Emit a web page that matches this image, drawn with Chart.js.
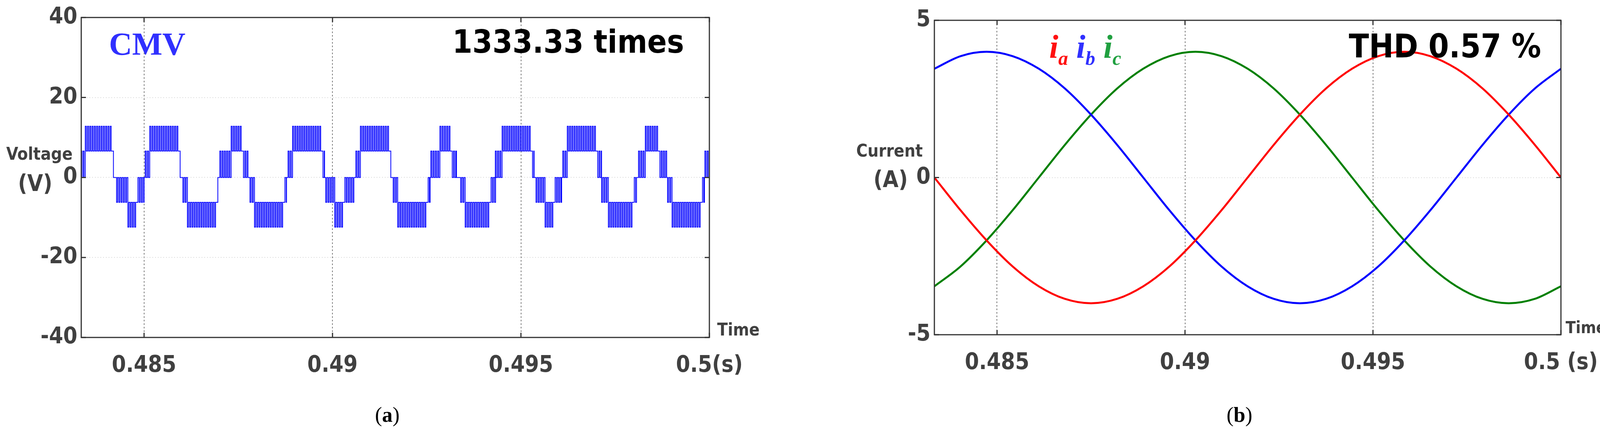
<!DOCTYPE html>
<html><head><meta charset="utf-8">
<script src="https://cdn.jsdelivr.net/npm/chart.js@4.4.0/dist/chart.umd.min.js"></script>
<style>
html,body{margin:0;padding:0}
body{width:4160px;height:1124px;background:#fff;position:relative;overflow:hidden}
canvas{position:absolute;top:0}
.t{position:absolute;white-space:nowrap;line-height:1;z-index:5}
.n{font-family:"DejaVu Sans Condensed","DejaVu Sans",sans-serif;font-weight:bold;color:#404040}
.k{font-family:"DejaVu Sans Condensed","DejaVu Sans",sans-serif;font-weight:bold;color:#000}
.s{font-family:"Liberation Serif","DejaVu Serif",serif}
</style></head><body>
<div style="position:absolute;left:0;top:0;width:2080px;height:1124px"><canvas id="c1"></canvas></div>
<div style="position:absolute;left:2080px;top:0;width:2080px;height:1124px"><canvas id="c2"></canvas></div>

<div class="t s" style="left:279px;top:72px;font-size:82px;font-weight:bold;color:#3030ff">CMV</div>
<div class="t k" style="left:1158px;top:66px;font-size:82px">1333.33 times</div>
<div class="t n" style="left:16px;top:372px;font-size:44px">Voltage</div>
<div class="t n" style="left:46px;top:440px;font-size:58px">(V)</div>
<div class="t n" style="left:1836px;top:822px;font-size:44px">Time</div>
<div class="t s" style="left:960px;top:1035px;font-size:54px">(<b>a</b>)</div>

<div class="t s" style="left:2686px;top:78px;font-size:84px;font-weight:bold;font-style:italic"><span style="color:#ff1010">i<sub style="font-size:50px">a</sub></span> <span style="color:#3030ff">i<sub style="font-size:50px">b</sub></span> <span style="color:#20a040">i<sub style="font-size:50px">c</sub></span></div>
<div class="t k" style="left:3453px;top:76px;font-size:84px">THD 0.57 %</div>
<div class="t n" style="left:2192px;top:364px;font-size:44px">Current</div>
<div class="t n" style="left:2236px;top:430px;font-size:58px">(A)</div>
<div class="t n" style="left:4008px;top:818px;font-size:42px">Time</div>
<div class="t s" style="left:3140px;top:1035px;font-size:54px">(<b>b</b>)</div>
<script>
// ---- Panel (a): CMV switching blocks ----
const blockStart = [0.48332,0.48427,0.48503,0.48603,0.48701,0.48781,0.48882,0.48982,0.49062,0.49161,0.49261,0.49340,0.49432,0.49540,0.49611,0.49714,0.49812,0.49889,0.49988];
const blockEnd   = [0.48421,0.48500,0.48599,0.48697,0.48779,0.48878,0.48979,0.49058,0.49156,0.49259,0.49329,0.49435,0.49535,0.49608,0.49714,0.49809,0.49887,0.49987,0.50000];
const peakStart  = [0.48342,0.48452,0.48513,0.48612,0.48731,0.48791,0.48891,0.49001,0.49073,0.49168,0.49281,0.49351,0.49450,0.49560,0.49621,0.49730,0.49829,0.49899,null];
const peakEnd    = [0.48411,0.48480,0.48589,0.48690,0.48758,0.48869,0.48969,0.49028,0.49150,0.49249,0.49310,0.49417,0.49528,0.49587,0.49696,0.49797,0.49866,0.49975,null];
const blockSign  = [1,-1,1,-1,1,-1,1,-1,1,-1,1,-1,1,-1,1,-1,1,-1,1];
const posLevels = [0, 6.6, 12.8];
const negLevels = [0, -6.2, -12.4];
const switchPeriod = 0.00006;

const cmv = [];
cmv.push({x:0.48333,y:-6});
for (let b=0;b<blockStart.length;b++){
  const L = blockSign[b]>0?posLevels:negLevels;
  for (let t=blockStart[b]; t<blockEnd[b]; t+=switchPeriod){
    const inPeak = peakStart[b]!==null && t>=peakStart[b] && t<=peakEnd[b];
    const hi = inPeak?L[2]:L[1], lo = inPeak?L[1]:L[0];
    cmv.push({x:t,y:hi});
    cmv.push({x:Math.min(t+switchPeriod*0.45,blockEnd[b]),y:lo});
  }
  cmv.push({x:blockEnd[b],y:0});
}

// ---- Panel (b): phase currents, read every 1/24 cycle ----
const tStart = 0.483333, tEnd = 0.5;
const ia = [0,-1.04,-2,-2.83,-3.46,-3.86,-4,-3.86,-3.46,-2.83,-2,-1.04,0,1.04,2,2.83,3.46,3.86,4,3.86,3.46,2.83,2,1.04,0];
const ib = [3.46,3.86,4,3.86,3.46,2.83,2,1.04,0,-1.04,-2,-2.83,-3.46,-3.86,-4,-3.86,-3.46,-2.83,-2,-1.04,0,1.04,2,2.83,3.46];
const ic = [-3.46,-2.83,-2,-1.04,0,1.04,2,2.83,3.46,3.86,4,3.86,3.46,2.83,2,1.04,0,-1.04,-2,-2.83,-3.46,-3.86,-4,-3.86,-3.46];
const xTicks = [0.485,0.49,0.495,0.5];
const yTicksA = [-40,-20,0,20,40];
const yTicksB = [-5,0,5];

const sampleT = ia.map((_,i)=>tStart+(tEnd-tStart)*i/(ia.length-1));
const toXY = arr => arr.map((v,i)=>({x:sampleT[i],y:v}));

const tickFont = {family:"'DejaVu Sans Condensed','DejaVu Sans',sans-serif",size:58,weight:'bold'};
const frame = {id:'frame',afterDraw(c){const a=c.chartArea,x=c.ctx;x.save();x.strokeStyle='#333';x.lineWidth=3;x.strokeRect(a.left,a.top,a.right-a.left,a.bottom-a.top);
  const ys=c.scales.y; ys.ticks.forEach(t=>{const p=ys.getPixelForValue(t.value);x.beginPath();x.moveTo(a.left,p);x.lineTo(a.left+12,p);x.moveTo(a.right,p);x.lineTo(a.right-12,p);x.stroke();});
  const xs=c.scales.x; xs.ticks.forEach(t=>{const p=xs.getPixelForValue(t.value);x.beginPath();x.moveTo(p,a.bottom);x.lineTo(p,a.bottom-12);x.moveTo(p,a.top);x.lineTo(p,a.top+12);x.stroke();});
  x.restore();}};

function opts(yt, yw, xh, top, right, yMin, yMax, lastLabel){
  return {
    responsive:true, maintainAspectRatio:false, animation:false, devicePixelRatio:1,
    layout:{padding:{top:top,right:right,left:0,bottom:0}},
    plugins:{legend:{display:false},tooltip:{enabled:false}},
    scales:{
      x:{type:'linear',min:tStart,max:tEnd,
        afterBuildTicks:s=>{s.ticks=xTicks.map(v=>({value:v}));},
        afterFit:s=>{s.height=xh;},
        ticks:{font:tickFont,color:'#404040',padding:38,maxRotation:0,autoSkip:false,
          callback:v=>v===0.5?lastLabel:String(v)},
        grid:{color:'#777',lineWidth:2,drawTicks:false},
        border:{display:false,dash:[4,5]}},
      y:{min:yMin,max:yMax,
        afterBuildTicks:s=>{s.ticks=yt.map(v=>({value:v}));},
        afterFit:s=>{s.width=yw;},
        ticks:{font:tickFont,color:'#404040',padding:10},
        grid:{color:'#d8d8d8',lineWidth:2,drawTicks:false},
        border:{display:false,dash:[2,5]}}
    }
  };
}
const o1 = opts(yTicksA,208,260,44,264,-40,40,'0.5(s)');
new Chart(document.getElementById('c1'),{type:'line',
  data:{datasets:[{data:cmv,borderColor:'#0000ff',borderWidth:2,pointRadius:0,stepped:true,parsing:false}]},
  options:o1,plugins:[frame]});

const o2 = opts(yTicksB,312,267,52,164,-5,5,'0.5 (s)');
new Chart(document.getElementById('c2'),{type:'line',
  data:{datasets:[
    {data:toXY(ia),borderColor:'#ff0000',borderWidth:5,pointRadius:0,cubicInterpolationMode:'monotone'},
    {data:toXY(ib),borderColor:'#0000ff',borderWidth:5,pointRadius:0,cubicInterpolationMode:'monotone'},
    {data:toXY(ic),borderColor:'#008000',borderWidth:5,pointRadius:0,cubicInterpolationMode:'monotone'}]},
  options:o2,plugins:[frame]});
</script></body></html>
